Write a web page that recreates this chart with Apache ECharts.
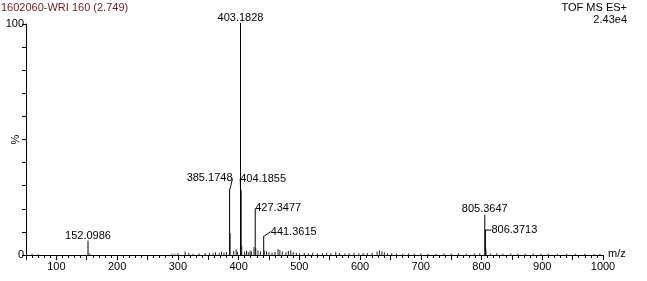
<!DOCTYPE html>
<html><head><meta charset="utf-8">
<script src="https://cdn.jsdelivr.net/npm/echarts@6/dist/echarts.min.js"></script>
<style>html,body{margin:0;padding:0;background:#fff}#c{width:647px;height:281px}</style>
</head><body><div id="c"></div>
<script>
// Labelled peaks
const peakMz = [152.0986, 385.1748, 403.1828, 404.1855, 427.3477, 441.3615, 805.3647, 806.3713];
const peakInt = [6.2, 28.6, 100, 28.0, 15.6, 8.2, 16.5, 11.0];
// Unlabelled minor peaks (isotopes etc.)
const minorMz = [60, 70, 155, 290, 295, 386.18, 405.19, 425.3, 428.35, 442.36, 807.37];
const minorInt = [0.5, 0.3, 0.8, 0.6, 0.5, 9.5, 4.0, 3.5, 3.0, 2.0, 2.5];
// Baseline noise
const noiseMz = [300,312,318,325,335,345,352,358,362,368,372,376,380,392,396,398,410,413,416,419,421,432,436,446,450,455,460,465,468,472,478,482,486,490,495,500,508,515,522,530,538,545,552,560,566,575,582,590,598,605,612,620,628,632,636,640,645,652,660,670,680,690,700,712,725,738,750,762,775,788,797,815,825,835,848,860,872,885,898,910,925,940,955,970,985,995];
const noiseInt = [0.8,1.5,0.8,0.5,0.7,0.9,1.0,0.8,1.2,1.0,1.5,1.0,1.3,1.8,2.5,1.5,1.4,1.8,1.2,2.0,1.5,2.0,1.5,1.6,1.2,1.0,1.3,2.6,2.2,1.5,1.2,1.7,2.0,1.2,1.0,0.8,1.0,0.8,1.0,0.7,0.8,1.0,0.8,1.4,0.9,0.7,0.8,1.0,0.7,0.9,0.8,0.9,1.5,2.0,1.6,1.2,0.8,0.6,0.6,0.5,0.6,0.5,0.6,0.5,0.5,0.6,0.5,0.6,0.5,0.6,0.8,0.6,0.8,0.5,0.6,0.5,0.5,0.6,0.5,0.5,0.5,0.5,0.5,0.5,0.4,0.4];
const titleText = '1602060-WRI 160 (2.749)';
const infoText = ['TOF MS ES+', '2.43e4'];
const xLabels = [100,200,300,400,500,600,700,800,900,1000];

// label offsets (style)
const labelOffsets = [[0,3],[-20,-3],[0,1],[22,-4],[23,-3],[30,3],[0,0],[29,8]];

const font = 'Liberation Sans, Arial, sans-serif';
const chart = echarts.init(document.getElementById('c'), null, {renderer:'canvas'});
const zip = (a,b)=>a.map((v,i)=>[v,b[i]]);
chart.setOption({
  animation:false,
  backgroundColor:'#fff',
  title:[
    {text:titleText,left:1,top:2,padding:0,textStyle:{fontFamily:font,fontSize:11,fontWeight:'normal',color:'#6e1c1c'}},
    {text:infoText[0],right:20,top:2,padding:0,textStyle:{fontFamily:font,fontSize:11,fontWeight:'normal',color:'#000'}},
    {text:infoText[1],right:20,top:14,padding:0,textStyle:{fontFamily:font,fontSize:11,fontWeight:'normal',color:'#000'}}
  ],
  grid:{left:26,right:44,top:24,bottom:26,containLabel:false,outerBoundsMode:'none'},
  xAxis:{type:'value',min:50,max:1000,interval:50,
    name:'m/z',nameLocation:'end',nameGap:5,nameTextStyle:{fontFamily:font,fontSize:11,color:'#000',verticalAlign:'bottom',padding:[0,0,-4,0]},
    axisLine:{show:true,onZero:false,lineStyle:{color:'#000',width:1}},
    axisTick:{show:true,length:5,lineStyle:{color:'#000'}},
    minorTick:{show:true,splitNumber:5,length:3,lineStyle:{color:'#000'}},
    splitLine:{show:false},
    axisLabel:{fontFamily:font,fontSize:11,color:'#000',margin:6,
      formatter:v=>xLabels.includes(v)?String(v):''}
  },
  yAxis:{type:'value',min:0,max:100,interval:10,
    name:'%',nameLocation:'middle',nameRotate:90,nameGap:5,nameMoveOverlap:false,nameTextStyle:{fontFamily:font,fontSize:11,color:'#000'},
    axisLine:{show:true,lineStyle:{color:'#000',width:1}},
    axisTick:{show:true,length:4,lineStyle:{color:'#000'}},
    splitLine:{show:false},
    axisLabel:{fontFamily:font,fontSize:11,color:'#000',margin:2,
      formatter:v=>(v===0||v===100)?String(v):''}
  },
  series:[
    {type:'bar',barWidth:1,barGap:'-100%',data:zip(noiseMz,noiseInt),itemStyle:{color:'#222'},silent:true},
    {type:'bar',barWidth:1,barGap:'-100%',data:zip(minorMz,minorInt),itemStyle:{color:'#444'},silent:true},
    {type:'bar',barWidth:1,barGap:'-100%',data:zip(peakMz,peakInt),itemStyle:{color:'#000'},
      label:{show:true,position:'top',distance:2,fontFamily:font,fontSize:11,color:'#000',
        formatter:p=>p.value[0].toFixed(4)},
      labelLine:{show:true,lineStyle:{color:'#000',width:1}},
      labelLayout:p=>({dx:labelOffsets[p.dataIndex][0],dy:labelOffsets[p.dataIndex][1]})
    }
  ]
});
</script></body></html>
